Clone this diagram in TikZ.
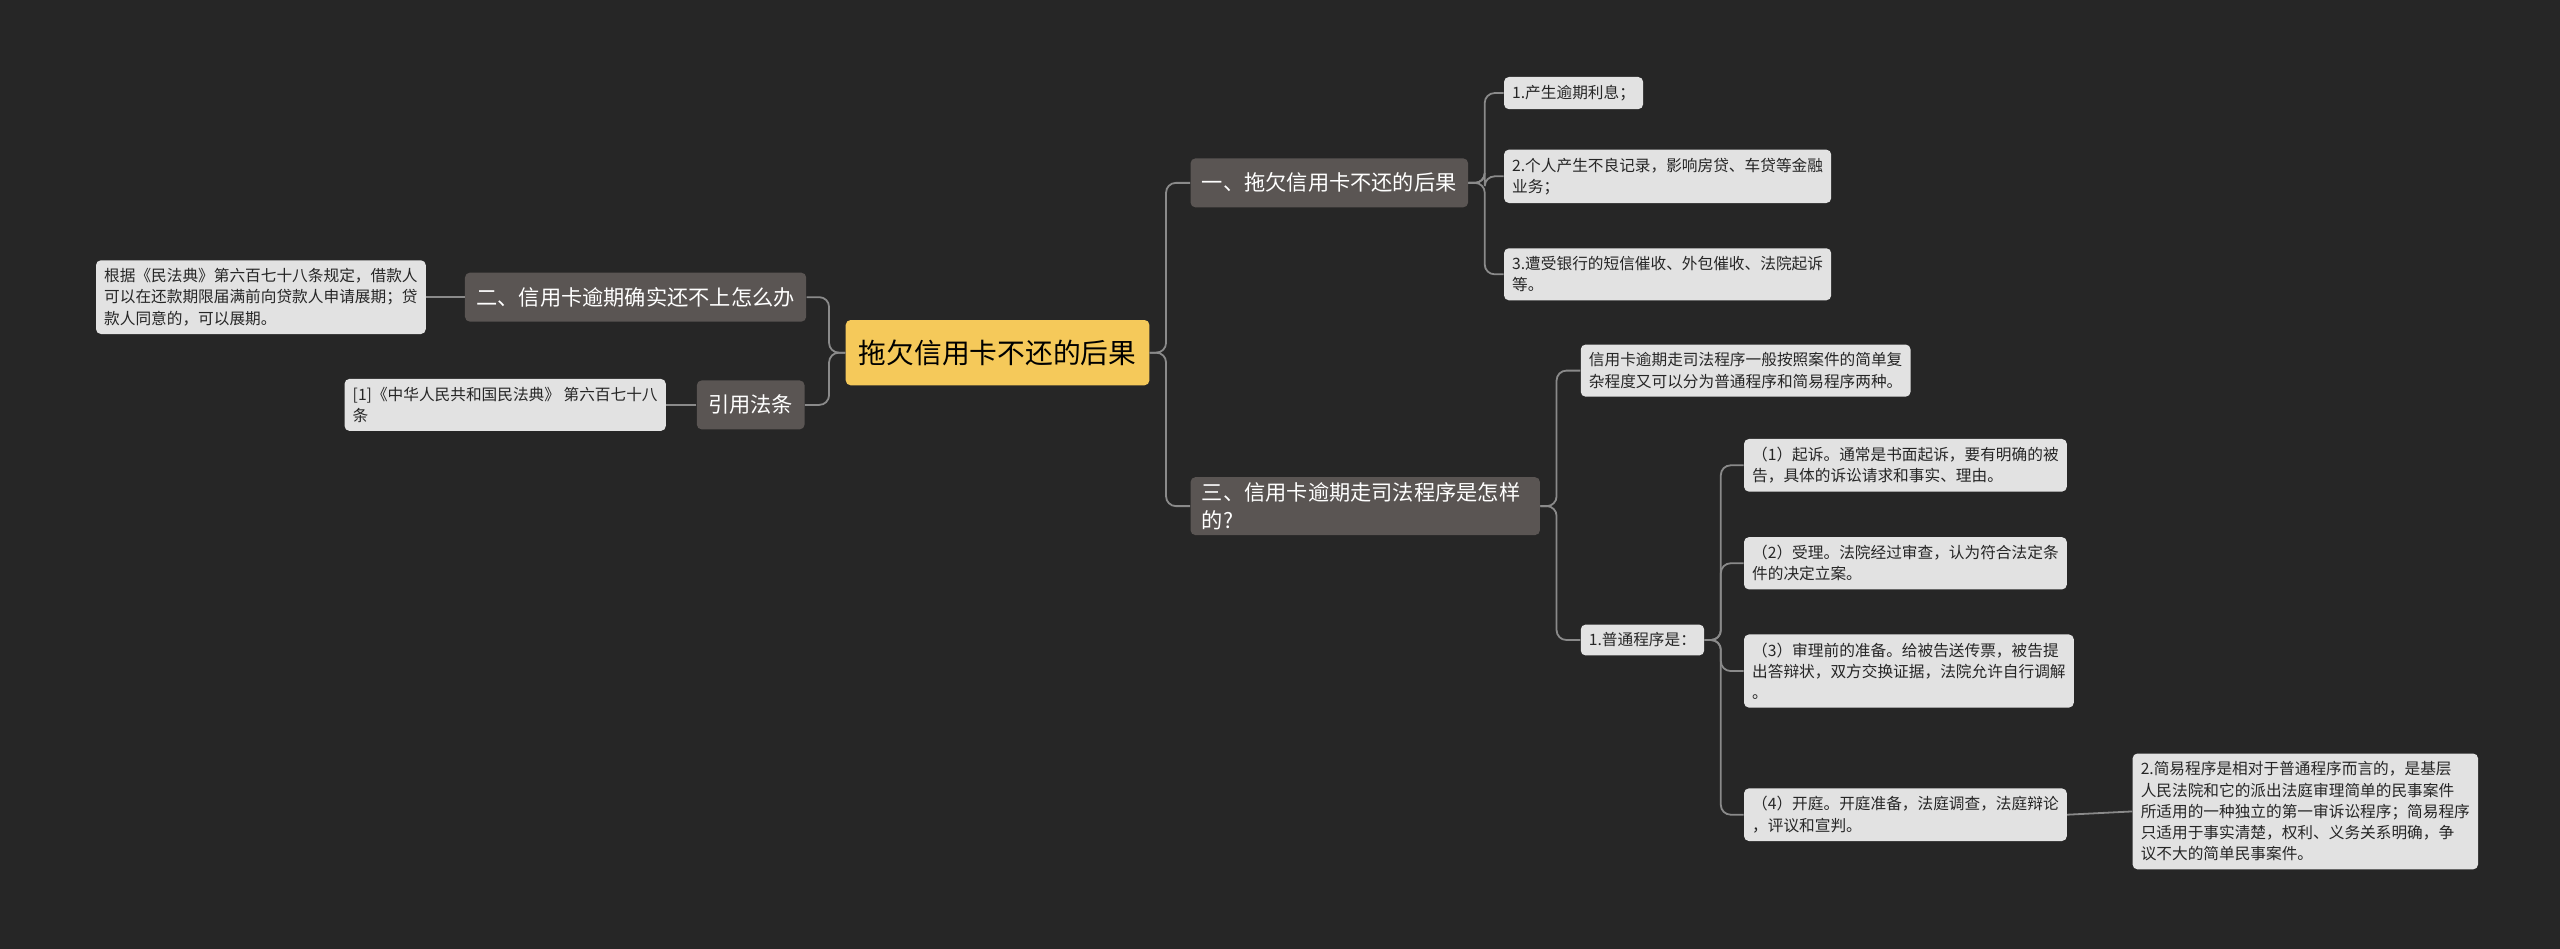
\documentclass[tikz,border=0pt]{standalone}
\usepackage{fontspec}
\setmainfont{Noto Sans CJK SC}
\usetikzlibrary{positioning}
\definecolor{bgc}{HTML}{262626}
\definecolor{rootc}{HTML}{F5C95A}
\definecolor{branchc}{HTML}{5A5553}
\definecolor{leafc}{HTML}{E2E2E2}
\definecolor{linec}{HTML}{8A8A8A}
\tikzset{
  rootbox/.style={fill=rootc, text=black, rounded corners=3, font=\fontsize{17}{20}\selectfont, minimum height=40, inner xsep=8},
  branchbox/.style={fill=branchc, text=white, rounded corners=3, font=\fontsize{13}{17}\selectfont, minimum height=30, inner xsep=7, align=left},
  leafbox/.style={fill=leafc, text=black!85, rounded corners=3, font=\fontsize{9.6}{13}\selectfont, align=left, inner sep=5, anchor=west},
  link/.style={draw=linec, line width=1.1, rounded corners=6}
}
\begin{document}
\begin{tikzpicture}[x=1pt, y=-1pt]
  \fill[bgc] (0,0) rectangle (1568,581);
  \useasboundingbox (0,0) rectangle (1568,581);
  % centre and branches
  \node[rootbox] (root) at (611,216) {拖欠信用卡不还的后果};
  \node[branchbox, anchor=west] (conseq) at (729,112) {一、拖欠信用卡不还的后果};
  \node[branchbox, anchor=west, text width=200] (court) at (729,310) {三、信用卡逾期走司法程序是怎样\\的?};
  \node[branchbox, anchor=east] (unable) at (494,182) {二、信用卡逾期确实还不上怎么办};
  \node[branchbox, anchor=east] (cite) at (493,248) {引用法条};
  % leaves
  \node[leafbox, anchor=east] (extend) at (261,182) {根据《民法典》第六百七十八条规定，借款人\\可以在还款期限届满前向贷款人申请展期；贷\\款人同意的，可以展期。};
  \node[leafbox, anchor=east] (law) at (408,248) {[1]《中华人民共和国民法典》 第六百七十八\\条};
  \node[leafbox] (interest) at (921,57) {1.产生逾期利息；};
  \node[leafbox] (record) at (921,108) {2.个人产生不良记录，影响房贷、车贷等金融\\业务；};
  \node[leafbox] (collect) at (921,168) {3.遭受银行的短信催收、外包催收、法院起诉\\等。};
  \node[leafbox] (kinds) at (968,227) {信用卡逾期走司法程序一般按照案件的简单复\\杂程度又可以分为普通程序和简易程序两种。};
  \node[leafbox] (normal) at (968,392) {1.普通程序是：};
  \node[leafbox] (sue) at (1068,285) {（1）起诉。通常是书面起诉，要有明确的被\\告，具体的诉讼请求和事实、理由。};
  \node[leafbox] (accept) at (1068,345) {（2）受理。法院经过审查，认为符合法定条\\件的决定立案。};
  \node[leafbox] (prepare) at (1068,411) {（3）审理前的准备。给被告送传票，被告提\\出答辩状，双方交换证据，法院允许自行调解\\。};
  \node[leafbox] (trial) at (1068,499) {（4）开庭。开庭准备，法庭调查，法庭辩论\\，评议和宣判。};
  \node[leafbox] (simple) at (1306,497) {2.简易程序是相对于普通程序而言的，是基层\\人民法院和它的派出法庭审理简单的民事案件\\所适用的一种独立的第一审诉讼程序；简易程序\\只适用于事实清楚，权利、义务关系明确，争\\议不大的简单民事案件。};
  % connectors
  \foreach \c in {conseq,court}
    \draw[link] (root.east) -- ++(10,0) |- (\c.west);
  \foreach \c in {unable,cite}
    \draw[link] (root.west) -- ++(-10,0) |- (\c.east);
  \draw[link] (unable.west) -- (extend.east);
  \draw[link] (cite.west) -- (law.east);
  \foreach \c in {interest,record,collect}
    \draw[link] (conseq.east) -- ++(10,0) |- (\c.west);
  \foreach \c in {kinds,normal}
    \draw[link] (court.east) -- ++(10,0) |- (\c.west);
  \foreach \c in {sue,accept,prepare,trial}
    \draw[link] (normal.east) -- ++(10,0) |- (\c.west);
  \draw[link] (trial.east) -- (simple.west);
\end{tikzpicture}
\end{document}
